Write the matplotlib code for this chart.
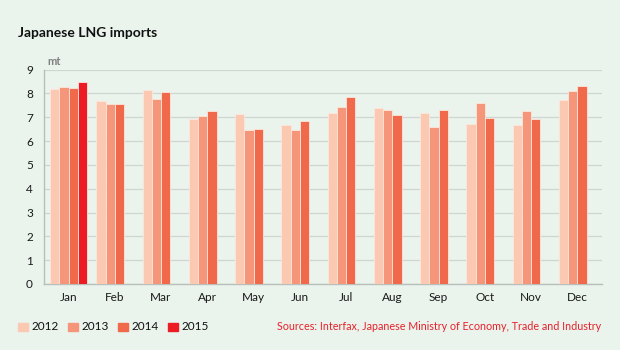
import matplotlib
matplotlib.use("Agg")
import numpy as np
import matplotlib.pyplot as plt
from matplotlib.patches import Rectangle

plt.rcParams["font.family"] = ["Lato", "DejaVu Sans"]

MONTHS = ["Jan", "Feb", "Mar", "Apr", "May", "Jun",
          "Jul", "Aug", "Sep", "Oct", "Nov", "Dec"]
YEARS = ["2012", "2013", "2014", "2015"]
IMPORTS_2012 = [8.17, 7.68, 8.14, 6.92, 7.15, 6.66, 7.18, 7.39, 7.16, 6.70, 6.67, 7.72]
IMPORTS_2013 = [8.25, 7.54, 7.76, 7.06, 6.45, 6.46, 7.43, 7.29, 6.60, 7.58, 7.25, 8.11]
IMPORTS_2014 = [8.21, 7.54, 8.07, 7.25, 6.52, 6.84, 7.86, 7.08, 7.30, 6.97, 6.91, 8.30]
IMPORTS_2015 = [8.46]
SERIES = [IMPORTS_2012, IMPORTS_2013, IMPORTS_2014, IMPORTS_2015]
COLORS = ["#fbc8b2", "#f5967a", "#f0694b", "#ec1c24"]

BG = "#eaf4ed"
GRID = "#cfd6d2"

fig = plt.figure(figsize=(6.2, 3.5), dpi=100, facecolor=BG)
ax = fig.add_axes([44 / 620, 1 - 284 / 350, 558 / 620, 214.5 / 350], facecolor=BG)

width = 0.2
x = np.arange(len(MONTHS))
for k, (values, color) in enumerate(zip(SERIES, COLORS)):
    pos = x[:len(values)] + (k - 1.5) * width
    ax.bar(pos, values, width=width, color=color, edgecolor="#fde6dc",
           linewidth=0.6, zorder=3)

ax.set_xlim(-0.53, 11.53)
ax.set_ylim(0, 9)
ax.set_yticks(range(0, 10))
ax.set_xticks(x)
ax.set_xticklabels(MONTHS)
ax.tick_params(axis="both", length=0, labelsize=8.5, colors="#1a1a1a")
ax.tick_params(axis="x", pad=6)
ax.tick_params(axis="y", pad=8)
ax.grid(axis="y", color=GRID, linewidth=0.9, zorder=0)
for side in ["top", "right"]:
    ax.spines[side].set_visible(False)
for side in ["left", "bottom"]:
    ax.spines[side].set_color("#b8bfbb")
    ax.spines[side].set_linewidth(1.0)

ax.text(-0.46, 9.12, "mt", fontsize=8, fontweight="bold", color="#808080",
        ha="left", va="bottom")

fig.text(18 / 620, 1 - 33 / 350, "Japanese LNG imports", fontsize=10,
         fontweight="bold", color="#111111", ha="left", va="center")

# legend along the bottom
lx = 18
for year, color in zip(YEARS, COLORS):
    fig.patches.append(Rectangle((lx / 620, 1 - 331 / 350), 10 / 620, 8 / 350,
                                 transform=fig.transFigure, color=color))
    fig.text((lx + 14) / 620, 1 - 327 / 350, year, fontsize=8.5,
             color="#111111", ha="left", va="center")
    lx += 50

fig.text(601 / 620, 1 - 327 / 350,
         "Sources: Interfax, Japanese Ministry of Economy, Trade and Industry",
         fontsize=7.75, color="#e8202a", ha="right", va="center")

fig.savefig("out.png", dpi=100, facecolor=BG)
